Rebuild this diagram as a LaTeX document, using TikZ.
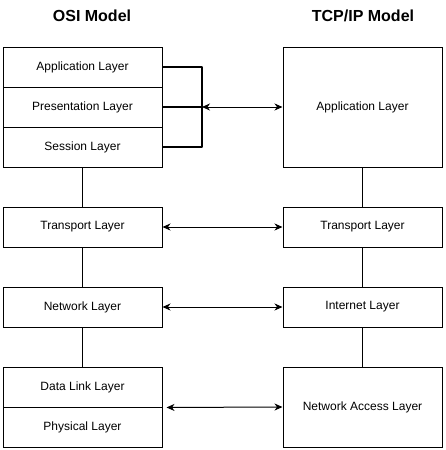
\documentclass[tikz,border=0pt]{standalone}
\usepackage{fontspec}
\setmainfont{Liberation Sans}
\usetikzlibrary{arrows.meta}
\begin{document}
\begin{tikzpicture}[x=1pt, y=-1pt,
    layer/.style={draw, line width=1pt, minimum width=159pt, minimum height=40pt, inner sep=0pt, font=\fontsize{12}{14}\selectfont},
    title/.style={font=\fontsize{16}{18}\selectfont\bfseries},
    link/.style={line width=1pt, {Stealth[length=8pt,width=7pt,inset=2.5pt]}-{Stealth[length=8pt,width=7pt,inset=2.5pt]}}]
    \useasboundingbox (0,0) rectangle (445,450);

    \node[title] (osi) at (92,16) {OSI Model};
    \node[title] (tcp) at (363,16) {TCP/IP Model};

    \node[layer] (app) at (82.5,67) {Application Layer};
    \node[layer] (pres) at (82.5,107) {Presentation Layer};
    \node[layer] (sess) at (82.5,147) {Session Layer};
    \node[layer] (trans) at (82.5,227) {Transport Layer};
    \node[layer] (net) at (82.5,307) {Network Layer};
    \node[layer] (dl) at (82.5,387) {Data Link Layer};
    \node[layer] (phys) at (82.5,427) {Physical Layer};

    \node[layer, minimum height=120pt] (tapp) at (362.5,107) {Application Layer};
    \node[layer] (ttrans) at (362.5,227) {Transport Layer};
    \node[layer] (tinet) at (362.5,307) {Internet Layer};
    \node[layer, minimum height=80pt] (tnacc) at (362.5,407) {Network Access Layer};

    \draw[line width=1pt] (sess.south) -- (trans.north);
    \draw[line width=1pt] (trans.south) -- (net.north);
    \draw[line width=1pt] (net.south) -- (dl.north);
    \draw[line width=1pt] (tapp.south) -- (ttrans.north);
    \draw[line width=1pt] (ttrans.south) -- (tinet.north);
    \draw[line width=1pt] (tinet.south) -- (tnacc.north);

    \coordinate (brace) at (202,107);
    \draw[line width=2pt, line join=round] (app.east) -| (brace |- sess.east) -- (sess.east);
    \draw[line width=2pt] (pres.east) -- (brace);

    \draw[link] (brace) -- (tapp.west);
    \draw[link] (trans.east) -- (ttrans.west);
    \draw[link] (net.east) -- (tinet.west);
    \draw[link, shorten <=4pt] (dl.south east) -- (tnacc.west);
\end{tikzpicture}
\end{document}
